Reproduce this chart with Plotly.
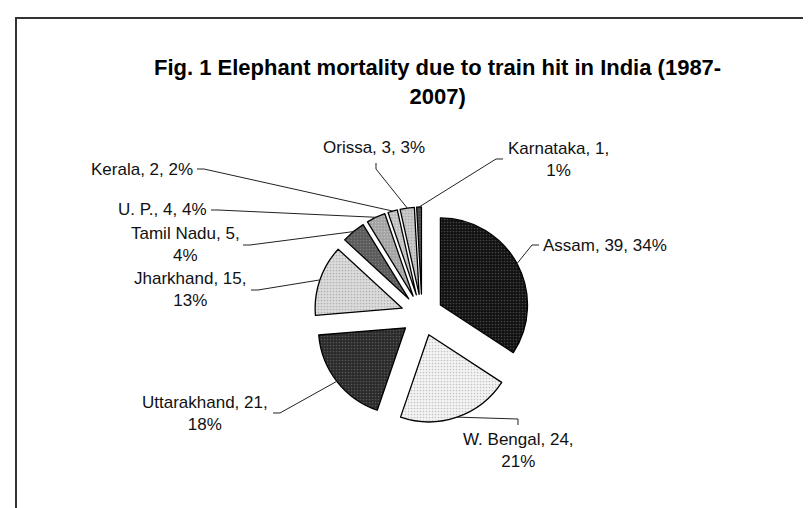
import math
import plotly.graph_objects as go

# ---- data ----
states = ["Assam", "W. Bengal", "Uttarakhand", "Jharkhand", "Tamil Nadu",
          "U. P.", "Kerala", "Orissa", "Karnataka"]
deaths = [39, 24, 21, 15, 5, 4, 2, 3, 1]
pct_labels = ["34%", "21%", "18%", "13%", "4%", "4%", "2%", "3%", "1%"]

# ---- styling ----
W, H = 811, 508
bg_colors = ["#111111", "#f4f4f4", "#2a2a2a", "#dcdcdc", "#5a5a5a",
             "#a2a2a2", "#bebebe", "#cacaca", "#4a4a4a"]
fg_colors = ["#444444", "#c4c4c4", "#555555", "#b0b0b0", "#7a7a7a",
             "#c2c2c2", "#dddddd", "#a8a8a8", "#777777"]
PULL = 0.24
dom_x = [0.3773, 0.6437]
dom_y = [0.1831, 0.6083]

# label layout: text position (px), anchors, leader elbow + tick end (px)
label_layout = {
    "Assam":       dict(tx=533, ty=237, xa="left",   ya="middle", elbow=(524, 237), tick=(531, 237), two=False),
    "W. Bengal":   dict(tx=510, ty=420, xa="center", ya="top",    elbow=(510, 411), tick=(510, 417), two=True),
    "Uttarakhand": dict(tx=262, ty=405, xa="right",  ya="middle", elbow=(272, 405), tick=(265, 405), two=True),
    "Jharkhand":   dict(tx=240, ty=281, xa="right",  ya="middle", elbow=(250, 282), tick=(243, 282), two=True),
    "Tamil Nadu":  dict(tx=234, ty=236, xa="right",  ya="middle", elbow=(242, 237), tick=(235, 237), two=True),
    "U. P.":       dict(tx=201, ty=202, xa="right",  ya="middle", elbow=(210, 202), tick=(203, 202), two=False),
    "Kerala":      dict(tx=187, ty=161, xa="right",  ya="middle", elbow=(196, 161), tick=(189, 161), two=False),
    "Orissa":      dict(tx=366, ty=140, xa="center", ya="middle", elbow=(368, 161), tick=(368, 155), two=False),
    "Karnataka":   dict(tx=498, ty=151, xa="left",   ya="middle", elbow=(488, 151), tick=(495, 151), two=True),
}

fig = go.Figure(go.Pie(
    labels=states,
    values=deaths,
    sort=False,
    direction="clockwise",
    rotation=0,
    pull=[PULL] * len(deaths),
    textinfo="none",
    hoverinfo="label+value+percent",
    domain=dict(x=dom_x, y=dom_y),
    marker=dict(
        colors=bg_colors,
        line=dict(color="#000000", width=1.3),
        pattern=dict(shape=["."] * len(deaths), fgcolor=fg_colors,
                     bgcolor=bg_colors, size=3, solidity=0.25),
    ),
    showlegend=False,
))

# geometry (mirrors plotly's pie sizing) to attach leader lines to slices
bw = W * (dom_x[1] - dom_x[0])
bh = H * (dom_y[1] - dom_y[0])
r = min(bw, bh) / (2 + 2 * PULL)
cx = W * (dom_x[0] + dom_x[1]) / 2
cy = H * (1 - (dom_y[0] + dom_y[1]) / 2)
total = sum(deaths)

def px(x, y):
    return x / W, 1 - y / H

shapes = []
annotations = []
cum = 0
for name, v, pct in zip(states, deaths, pct_labels):
    mid = (cum + v / 2) / total * 2 * math.pi
    cum += v
    ox = cx + PULL * r * math.sin(mid)
    oy = cy - PULL * r * math.cos(mid)
    ex = ox + r * math.sin(mid)
    ey = oy - r * math.cos(mid)
    L = label_layout[name]
    p0 = px(ex, ey)
    p1 = px(*L["elbow"])
    p2 = px(*L["tick"])
    shapes.append(dict(type="path", xref="paper", yref="paper",
                       path=f"M {p0[0]:.5f},{p0[1]:.5f} L {p1[0]:.5f},{p1[1]:.5f} L {p2[0]:.5f},{p2[1]:.5f}",
                       line=dict(color="#222222", width=1)))
    if L["two"]:
        text = f"{name}, {v},<br>{pct}"
    else:
        text = f"{name}, {v}, {pct}"
    tx, ty = px(L["tx"], L["ty"])
    annotations.append(dict(x=tx, y=ty, xref="paper", yref="paper", text=text,
                            showarrow=False, xanchor=L["xa"], yanchor=L["ya"],
                            align="center",
                            font=dict(family="Liberation Sans, Arial", size=17, color="#111111")))

# chart area border (top and left visible)
shapes.append(dict(type="path", xref="paper", yref="paper",
                   path=f"M {8/W:.5f},-0.1 L {8/W:.5f},{1-10/H:.5f} L 1.1,{1-10/H:.5f}",
                   line=dict(color="#333333", width=2)))

# title
tx, ty = px(429, 74)
annotations.append(dict(x=tx, y=ty, xref="paper", yref="paper",
                        text="<b>Fig. 1 Elephant mortality due to train hit in India (1987-<br>2007)</b>",
                        showarrow=False, xanchor="center", yanchor="middle", align="center",
                        font=dict(family="Liberation Sans, Arial", size=22, color="#000000")))

fig.update_layout(
    width=W, height=H, autosize=False,
    margin=dict(l=0, r=0, t=0, b=0),
    paper_bgcolor="#ffffff", plot_bgcolor="#ffffff",
    shapes=shapes, annotations=annotations,
)

fig.write_html("out.html")
